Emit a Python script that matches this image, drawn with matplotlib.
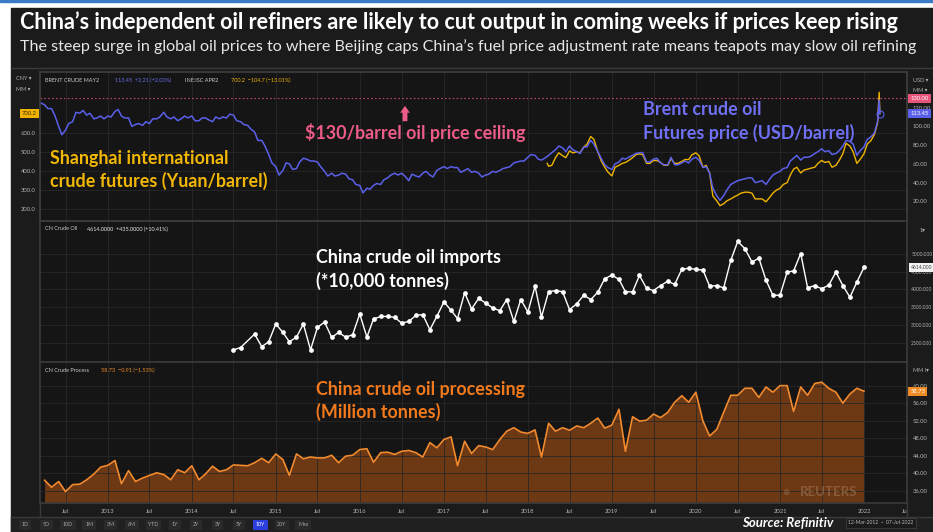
import matplotlib
matplotlib.use("Agg")
import matplotlib.pyplot as plt
from matplotlib.patches import Rectangle
from matplotlib.lines import Line2D
import matplotlib.dates as mdates
import pandas as pd

W, H = 933, 532
BG = "#1b1b1b"
PLOT_BG = "#151515"
GRID = "#282828"
EDGE = "#3a3a3a"
TICK = "#b4b4b4"

plt.rcParams["font.family"] = ["Lato", "DejaVu Sans"]

# ---- data ----
# Brent crude, semi-monthly (1st / 15th) from 15 Mar 2012, USD/barrel
brent_usd = [
    125, 123, 119, 119, 112, 100, 91, 96, 103, 105, 115, 114, 117, 112, 114, 108, 109, 111, 108,  # 2012
    111, 110, 116, 118, 111, 109, 109, 100, 102, 103, 101, 105, 103, 108, 108, 110, 115, 110, 108, 110, 106, 108, 111, 109,  # 2013
    111, 106, 106, 109, 109, 107, 105, 110, 108, 110, 109, 113, 112, 106, 105, 102, 101, 97, 94, 85, 85, 79, 70, 61,  # 2014
    57, 48, 53, 61, 60, 54, 55, 62, 66, 65, 63, 63, 62, 57, 52, 47, 50, 47, 48, 50, 49, 44, 43, 38,  # 2015
    37, 29, 34, 33, 37, 39, 38, 43, 45, 48, 50, 48, 50, 47, 42, 49, 47, 46, 50, 52, 48, 46, 53, 55,  # 2016
    57, 55, 57, 56, 56, 51, 53, 55, 51, 52, 50, 46, 48, 49, 52, 51, 53, 55, 56, 57, 61, 62, 63, 63,  # 2017
    67, 70, 69, 65, 64, 66, 69, 72, 75, 79, 77, 73, 79, 75, 73, 71, 78, 78, 85, 81, 73, 66, 59, 56,  # 2018
    54, 60, 62, 66, 65, 67, 69, 71, 72, 72, 62, 62, 65, 66, 61, 59, 59, 67, 59, 59, 61, 63, 61, 65,  # 2019
    67, 64, 56, 57, 50, 34, 26, 21, 26, 32, 38, 40, 42, 43, 44, 45, 45, 40, 41, 42, 38, 43, 48, 50,  # 2020
    52, 55, 56, 63, 66, 69, 64, 67, 67, 68, 71, 73, 76, 73, 74, 70, 71, 74, 79, 85, 84, 81, 69, 74,  # 2021
    78, 86, 89, 93, 105,  # 2022 to 1 Mar
]
brent_tail_dates = ["2022-03-08", "2022-03-11"]
brent_tail_usd = [128, 113.45]

# Shanghai INE crude, semi-monthly from 1 Apr 2018, yuan/barrel
ine_first_date = "2018-03-26"
ine_first_cny = 440
ine_cny = [
    425, 430, 470, 495, 480, 470, 505, 495, 500, 495, 525, 540, 580, 565, 500, 455, 420, 395,  # 2018
    375, 420, 430, 440, 445, 455, 470, 485, 490, 485, 440, 440, 455, 455, 445, 430, 430, 465, 440, 440, 450, 460, 460, 485,  # 2019
    495, 480, 420, 430, 390, 270, 245, 220, 230, 245, 255, 265, 275, 285, 290, 290, 285, 255, 255, 255, 240, 260, 285, 300,  # 2020
    310, 330, 340, 380, 410, 420, 390, 405, 410, 415, 420, 440, 455, 445, 450, 420, 430, 455, 490, 545, 530, 500, 440, 460,  # 2021
    490, 540, 560, 590, 650,  # 2022 to 1 Mar
]
ine_tail_dates = ["2022-03-08", "2022-03-11"]
ine_tail_cny = [810, 700.2]

# China crude oil imports, monthly, 10,000 tonnes (Jul 2014 - Jan 2022, Sep 2014 missing)
imports_first_months = ["2014-07-01", "2014-08-01"]
imports = [
    2320, 2385, 2760, 2410, 2545, 3040, 2805, 2545, 2675, 3040,
    2320, 2945, 3095, 2665, 2805, 2675, 2740, 3320, 2675, 3180,
    3250, 3250, 3225, 3065, 3110, 3280, 3300, 2880, 3250, 3655,
    3420, 3190, 3910, 3460, 3750, 3625, 3485, 3410, 3720, 3110,
    3720, 3375, 4090, 3235, 3935, 3970, 3935, 3440, 3600, 3840,
    3720, 3925, 4300, 4400, 4280, 3935, 3935, 4390, 4030, 3970,
    4110, 4230, 4140, 4560, 4590, 4560, 4540, 4090, 4110, 4045,
    4810, 5335, 5140, 4765, 4870, 4260, 3840, 3840, 4485, 4515,
    5000, 4045, 4110, 4020, 4120, 4485, 4110, 3785, 4205, 4614,
]

# China crude oil processing, monthly from Apr 2012, million tonnes
processing = [
    38.4, 36.8, 38.1, 35.8, 37.4, 37.5, 38.5, 39.8, 41.4, 41.8,
    42.9, 37.6, 40.6, 38.1, 38.9, 39.5, 40.1, 39.7, 38.5, 40.8,
    40.1, 41.7, 38.5, 39.8, 41.6, 40.4, 40.8, 41.9, 41.8, 41.7,
    42.4, 43.4, 42.4, 44.4, 43.1, 39.5, 44.4, 43.3, 43.7, 43.5,
    43.5, 44.1, 42.4, 43.9, 44.1, 45.4, 45.6, 42.5, 44.7, 44.8,
    44.3, 45.0, 45.2, 44.7, 43.7, 47.0, 45.8, 47.7, 48.3, 41.7,
    47.3, 44.5, 46.3, 46.0, 45.4, 47.7, 49.6, 50.4, 49.4, 49.1,
    49.9, 43.7, 51.4, 49.6, 50.4, 49.8, 50.8, 50.4, 51.4, 52.6,
    50.3, 51.0, 54.6, 45.0, 52.9, 51.9, 52.1, 53.5, 52.7, 53.9,
    56.2, 57.7, 56.2, 58.5, 51.9, 48.5, 50.0, 53.9, 57.8, 57.8,
    59.4, 59.4, 57.3, 59.7, 58.5, 60.0, 60.0, 54.1, 59.7, 57.8,
    60.5, 60.8, 59.4, 58.5, 56.0, 58.1, 59.4, 58.73,
]

buttons = ["1D", "5D", "10D", "1M", "3M", "6M", "YTD", "1Y", "2Y", "3Y", "5Y", "10Y", "20Y", "Max"]

# dates
brent_dates = list(pd.date_range("2012-03-15", periods=len(brent_usd), freq="SMS")) + list(pd.to_datetime(brent_tail_dates))
brent_all = brent_usd + brent_tail_usd
ine_dates = [pd.Timestamp(ine_first_date)] + list(pd.date_range("2018-04-01", periods=len(ine_cny), freq="SMS")) + list(pd.to_datetime(ine_tail_dates))
ine_all = [ine_first_cny] + ine_cny + ine_tail_cny
imp_dates = list(pd.to_datetime(imports_first_months)) + list(pd.date_range("2014-10-01", periods=len(imports) - 2, freq="MS"))
proc_dates = pd.date_range("2012-04-01", periods=len(processing), freq="MS")

X0, X1 = pd.Timestamp("2012-03-12"), pd.Timestamp("2022-07-07")


def fx(px):
    return px / W


def fy(py):
    return 1 - py / H


fig = plt.figure(figsize=(W / 100, H / 100), dpi=100, facecolor="white")

# dark backdrop + thin blue line at top
fig.patches.append(Rectangle((fx(11), 0), 1 - fx(11), fy(8), transform=fig.transFigure, color=BG, zorder=-10))
fig.patches.append(Rectangle((0, fy(2)), 1, 2 / H, transform=fig.transFigure, color="#3b7bc6", zorder=-10))
fig.patches.append(Rectangle((fx(11), fy(532)), 1 - fx(11), 15 / H, transform=fig.transFigure, color="#202020", zorder=-9))

fig.text(fx(20), fy(22), "China’s independent oil refiners are likely to cut output in coming weeks if prices keep rising",
         color="white", fontsize=15.5, fontweight="bold", va="center")
fig.text(fx(20), fy(47), "The steep surge in global oil prices to where Beijing caps China’s fuel price adjustment rate means teapots may slow oil refining",
         color="#e6e6e6", fontsize=11.6, va="center")

L, R = fx(40), fx(907)
ax_top = fig.add_axes([L, fy(221), R - L, (221 - 72) / H])
ax_imp = fig.add_axes([L, fy(362), R - L, (362 - 221) / H], sharex=ax_top)
ax_proc = fig.add_axes([L, fy(503), R - L, (503 - 362) / H], sharex=ax_top)
ax_usd = ax_top.twinx()

for ax in (ax_top, ax_imp, ax_proc, ax_usd):
    ax.set_facecolor(PLOT_BG)
    for s in ax.spines.values():
        s.set_color(EDGE)
        s.set_linewidth(1.2)
    ax.tick_params(length=0, labelsize=4.2, colors=TICK)
ax_usd.set_facecolor("none")

ax_top.set_xlim(X0, X1)
ax_top.xaxis.set_major_locator(mdates.MonthLocator(bymonth=[1, 7]))
ax_top.xaxis.set_major_formatter(
    plt.FuncFormatter(lambda v, p: str(mdates.num2date(v).year) if mdates.num2date(v).month == 1 else "Jul"))
ax_top.tick_params(axis="x", labelbottom=False)
ax_imp.tick_params(axis="x", labelbottom=False)
ax_proc.tick_params(axis="x", labelbottom=True, pad=4)

# ---- top panel: INE (left, CNY) and Brent (right, USD) ----
ax_top.plot(ine_dates, ine_all, color="#f0b400", lw=1.0)
ax_top.set_ylim(140, 916)
ax_top.set_yticks([200, 300, 400, 500, 600])
ax_top.yaxis.set_major_formatter(plt.FormatStrFormatter("%.1f"))
ax_top.tick_params(axis="y", pad=3)
ax_top.grid(True, color=GRID, lw=0.6)

ax_usd.plot(brent_dates, brent_all, color="#5b60ea", lw=1.1)
ax_usd.plot(brent_dates[-1:], brent_all[-1:], "o", mfc="none", mec="#5b60ea", ms=5, mew=0.8)
ax_usd.axhline(130, color="#c0466c", lw=0.8, ls=(0, (1.5, 2)))
ax_usd.set_ylim(-1, 158)
ax_usd.set_yticks([20, 40, 60, 80, 100, 120])
ax_usd.yaxis.set_major_formatter(plt.FormatStrFormatter("%.2f"))
ax_usd.tick_params(axis="y", pad=4)

# ---- middle panel: imports ----
ax_imp.plot(imp_dates, imports, color="white", lw=1.0, marker="o", ms=2.4, mfc="white", mec="white")
ax_imp.set_ylim(1983, 5905)
ax_imp.yaxis.tick_right()
ax_imp.set_yticks([2500, 3000, 3500, 4000, 4500, 5000])
ax_imp.yaxis.set_major_formatter(plt.FormatStrFormatter("%.3f"))
ax_imp.tick_params(axis="y", pad=3, labelsize=3.6)
ax_imp.grid(True, color=GRID, lw=0.6)

# ---- bottom panel: processing ----
PROC_YLIM = (33.2, 65.4)
ax_proc.fill_between(proc_dates, processing, PROC_YLIM[0], color="#6d3814", lw=0)
ax_proc.plot(proc_dates, processing, color="#f28a2e", lw=1.2)
ax_proc.set_ylim(*PROC_YLIM)
ax_proc.yaxis.tick_right()
ax_proc.set_yticks([36, 40, 44, 48, 52, 56, 60])
ax_proc.yaxis.set_major_formatter(plt.FormatStrFormatter("%.2f"))
ax_proc.tick_params(axis="y", pad=4)
ax_proc.grid(True, color=GRID, lw=0.6)


def value_box(ax, y, label, fc, tc, side="right", fs=4.2):
    if side == "right":
        ax.annotate(label, xy=(1, y), xycoords=("axes fraction", "data"), xytext=(2.5, 0), textcoords="offset points",
                    ha="left", va="center", fontsize=fs, color=tc, annotation_clip=False, zorder=10,
                    bbox=dict(boxstyle="square,pad=0.35", fc=fc, ec="none"))
    else:
        ax.annotate(label, xy=(0, y), xycoords=("axes fraction", "data"), xytext=(-2.5, 0), textcoords="offset points",
                    ha="right", va="center", fontsize=fs, color=tc, annotation_clip=False, zorder=10,
                    bbox=dict(boxstyle="square,pad=0.35", fc=fc, ec="none"))


value_box(ax_usd, 130, "130.00", "#e8547a", "white")
value_box(ax_usd, brent_all[-1], f"{brent_all[-1]:.2f}", "#5b60ea", "white")
value_box(ax_top, ine_all[-1], f"{ine_all[-1]:.1f}", "#f0b400", "#3a2a00", side="left")
value_box(ax_imp, imports[-1], f"{imports[-1]:.3f}", "#f2f2f2", "#444444", fs=3.6)
value_box(ax_proc, processing[-1], f"{processing[-1]:.2f}", "#f08a24", "white")

# panel headers (tiny Eikon labels)
fs_h = 4.0
fig.text(fx(45), fy(80), "BRENT CRUDE MAY2", color="#c8c8c8", fontsize=fs_h, va="center")
fig.text(fx(115), fy(80), "113.45  +2.21 (+2.00%)", color="#6a70f0", fontsize=fs_h, va="center")
fig.text(fx(185), fy(80), "INE:ISC APR2", color="#c8c8c8", fontsize=fs_h, va="center")
fig.text(fx(231), fy(80), "700.2  −104.7 (−13.01%)", color="#f0b400", fontsize=fs_h, va="center")
fig.text(fx(45), fy(229), "CN Crude Oil", color="#c8c8c8", fontsize=fs_h, va="center")
fig.text(fx(87), fy(229), "4614.0000  +435.0000 (+10.41%)", color="#e8e8e8", fontsize=fs_h, va="center")
fig.text(fx(45), fy(370), "CN Crude Process", color="#c8c8c8", fontsize=fs_h, va="center")
fig.text(fx(101), fy(370), "58.73  −0.91 (−1.53%)", color="#f08a24", fontsize=fs_h, va="center")
fig.text(fx(16), fy(79), "CNY ▾", color="#b0b0b0", fontsize=fs_h, va="center")
fig.text(fx(16), fy(89), "MM ▾", color="#b0b0b0", fontsize=fs_h, va="center")
fig.text(fx(913), fy(80), "USD ▾", color="#b0b0b0", fontsize=fs_h, va="center")
fig.text(fx(913), fy(90), "MM ▾", color="#b0b0b0", fontsize=fs_h, va="center")
fig.text(fx(920), fy(230), "1▾", color="#b0b0b0", fontsize=fs_h, va="center")
fig.text(fx(913), fy(371), "MM I▾", color="#b0b0b0", fontsize=fs_h, va="center")

# annotations
fs_a = 12.9
fig.text(fx(50), fy(170), "Shanghai international\ncrude futures (Yuan/barrel)", color="#f2b705",
         fontsize=fs_a, fontweight="bold", va="center", linespacing=1.33)
fig.text(fx(305), fy(132), "$130/barrel oil price ceiling", color="#ec5c86", fontsize=fs_a, fontweight="bold", va="center")
fig.text(fx(643), fy(121.5), "Brent crude oil\nFutures price (USD/barrel)", color="#6f70f4",
         fontsize=fs_a, fontweight="bold", va="center", linespacing=1.33)
fig.text(fx(316), fy(269.5), "China crude oil imports\n(*10,000 tonnes)", color="white",
         fontsize=fs_a, fontweight="bold", va="center", linespacing=1.33)
fig.text(fx(316), fy(401), "China crude oil processing\n(Million tonnes)", color="#f27a1c",
         fontsize=fs_a, fontweight="bold", va="center", linespacing=1.33)
fig.add_artist(plt.Annotation("", xy=(fx(405), fy(103)), xytext=(fx(405), fy(124)),
                              xycoords="figure fraction", textcoords="figure fraction",
                              arrowprops=dict(arrowstyle="simple,head_width=0.7,head_length=0.5,tail_width=0.35",
                                              color="#ec5c86", lw=0)))

# Reuters watermark
fig.text(fx(800), fy(492), "REUTERS", color="#b08a6a", alpha=0.45, fontsize=9.5, fontweight="bold", va="center")
fig.text(fx(786), fy(492), "●", color="#b08a6a", alpha=0.3, fontsize=9, va="center", ha="center")

# frame lines around the widget
for px in (40, 907):
    fig.add_artist(Line2D([fx(px), fx(px)], [fy(503), fy(517)], color=EDGE, lw=1.0))
fig.add_artist(Line2D([fx(11), 1], [fy(517), fy(517)], color=EDGE, lw=1.0))
fig.add_artist(Line2D([fx(11), 1], [fy(68), fy(68)], color=EDGE, lw=1.0))

# bottom button row
for i, b in enumerate(buttons):
    cx = 25 + 21.4 * i
    active = b == "10Y"
    fig.text(fx(cx), fy(525), b, color="white" if active else "#a8a8a8", fontsize=3.8, ha="center", va="center",
             bbox=dict(boxstyle="square,pad=0.5", fc="#2b3fe0" if active else "#2a2a2a", ec="none"))

fig.text(fx(742), fy(523), "Source: Refinitiv", color="white", fontsize=9.5, fontweight="bold", style="italic", va="center")
fig.text(fx(848), fy(523), "12-Mar-2012  ~  07-Jul-2022", color="#b8b8b8", fontsize=3.6, va="center",
         bbox=dict(boxstyle="square,pad=0.5", fc=BG, ec="#444444", lw=0.5))

fig.savefig("out.png", dpi=100, facecolor=fig.get_facecolor())
